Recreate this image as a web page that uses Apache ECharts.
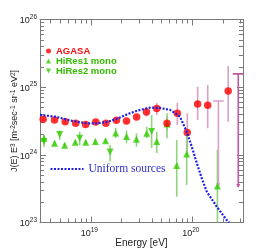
<!DOCTYPE html>
<html><head><meta charset="utf-8">
<script src="https://cdn.jsdelivr.net/npm/echarts@6/dist/echarts.min.js"></script>
<style>html,body{margin:0;padding:0;background:#fff}#c{width:262px;height:252px}</style>
</head><body><div id="c"></div>
<script>
// ---- data ----
const agasaE  = [3.4e18, 4.4e18, 5.6e18, 7.1e18, 8.9e18, 1.12e19, 1.41e19, 1.79e19, 2.25e19, 2.83e19, 3.54e19, 4.47e19, 5.64e19, 7.13e19, 8.93e19, 1.13e20, 1.42e20, 2.26e20];
const agasaJ  = [3.36e24, 3.28e24, 3.08e24, 2.94e24, 2.80e24, 3.06e24, 2.93e24, 3.24e24, 3.15e24, 3.63e24, 4.30e24, 4.83e24, 2.93e24, 4.11e24, 2.13e24, 5.65e24, 5.42e24, 8.79e24];
const agasaHi = [3.60e24, 3.51e24, 3.30e24, 3.15e24, 3.00e24, 3.27e24, 3.14e24, 3.47e24, 3.37e24, 3.88e24, 5.15e24, 5.84e24, 3.76e24, 5.90e24, 4.12e24, 1.01e25, 1.08e25, 2.06e25];
const agasaLo = [3.14e24, 3.07e24, 2.88e24, 2.75e24, 2.62e24, 2.86e24, 2.74e24, 3.03e24, 2.94e24, 3.39e24, 3.67e24, 3.88e24, 2.25e24, 2.77e24, 9.97e23, 3.28e24, 2.47e24, 3.09e24];
const agasaLimE   = [1.81e20, 2.84e20];
const agasaLimTop = [6.25e24, 1.57e25];
const agasaLimBot = [3.47e23, 3.36e23];

const hires1E  = [3.46e18, 4.40e18, 5.53e18, 7.04e18, 8.92e18, 1.11e19, 1.40e19, 1.76e19, 2.25e19, 2.82e19, 3.56e19, 4.47e19, 5.64e19, 7.03e19, 8.81e19, 1.77e20];
const hires1J  = [1.76e24, 1.48e24, 1.39e24, 1.54e24, 1.54e24, 1.57e24, 1.62e24, 2.11e24, 1.86e24, 1.70e24, 2.08e24, 1.57e24, 2.86e24, 6.93e23, 1.03e24, 3.47e23];
const hires1Hi = [1.92e24, 1.60e24, 1.50e24, 1.66e24, 1.66e24, 1.70e24, 1.75e24, 2.50e24, 2.28e24, 2.08e24, 2.61e24, 2.20e24, 4.12e24, 1.66e24, 1.97e24, 1.18e24];
const hires1Lo = [1.62e24, 1.37e24, 1.29e24, 1.43e24, 1.43e24, 1.45e24, 1.50e24, 1.78e24, 1.48e24, 1.32e24, 1.76e24, 1.06e24, 1.76e24, 2.41e23, 3.59e23, 1.0e23];

const hires2E  = [3.46e18, 4.94e18, 7.78e18, 1.55e19, 3.98e19];
const hires2J  = [1.58e24, 2.00e24, 1.76e24, 1.10e24, 2.22e24];
const hires2Hi = [1.97e24, 2.28e24, 2.20e24, 1.40e24, 3.88e24];
const hires2Lo = [1.31e24, 1.66e24, 1.38e24, 7.99e23, 1.26e24];

const uniformE = [3.16e18, 4.45e18, 6.38e18, 8.97e18, 1.15e19, 1.48e19, 1.85e19, 2.33e19, 2.92e19, 3.84e19, 4.81e19, 6.04e19, 6.46e19, 7.57e19, 8.81e19, 9.89e19, 1.11e20, 1.24e20, 1.39e20, 1.74e20, 2.18e20, 2.30e20];
const uniformJ = [3.88e24, 3.67e24, 3.20e24, 2.93e24, 2.91e24, 3.09e24, 3.45e24, 4.02e24, 4.53e24, 4.98e24, 4.93e24, 4.61e24, 4.34e24, 3.67e24, 2.20e24, 1.32e24, 7.51e23, 4.51e23, 2.86e23, 1.72e23, 1.09e23, 1.0e23];

const xTickValues  = [1e19, 1e20];
const xMinorValues = [4e18, 5e18, 6e18, 7e18, 8e18, 9e18, 2e19, 3e19, 4e19, 5e19, 6e19, 7e19, 8e19, 9e19, 2e20, 3e20];
const yTickValues  = [1e23, 1e24, 1e25, 1e26];
const yMinorValues = [2e23,3e23,4e23,5e23,6e23,7e23,8e23,9e23,2e24,3e24,4e24,5e24,6e24,7e24,8e24,9e24,2e25,3e25,4e25,5e25,6e25,7e25,8e25,9e25];
const xMin = Math.pow(10, 18.5), xMax = Math.pow(10, 20.5);
const yMin = 1e23, yMax = 1.00001e26;

// ---- chart ----
const AX = '#7a7a7a';
const FONT = 'Liberation Sans';
const labelRich = {
  b: {fontSize: 9, color: '#222', fontFamily: FONT, lineHeight: 12, verticalAlign: 'bottom'},
  s: {fontSize: 6.5, color: '#222', fontFamily: FONT, lineHeight: 8, verticalAlign: 'top'}
};
const supFmt = v => '{b|10}{s|' + Math.round(Math.log10(v)) + '}';

function axis(kind, pos, ticks, len, line, label, extra) {
  const o = {
    type: 'log', logBase: 10, position: pos,
    min: kind === 'x' ? xMin : yMin, max: kind === 'x' ? xMax : yMax,
    axisLine: {show: line, lineStyle: {color: AX, width: 1}},
    axisTick: {show: true, inside: true, length: len, customValues: ticks, lineStyle: {color: AX, width: 1}},
    axisLabel: label ? {show: true, customValues: ticks, formatter: supFmt, rich: labelRich,
      margin: kind === 'x' ? 4 : 3, padding: kind === 'x' ? [0, 3, 0, 0] : 0, hideOverlap: false,
      showMinLabel: true, showMaxLabel: true} : {show: false},
    splitLine: {show: false}, minorTick: {show: false}
  };
  return Object.assign(o, extra || {});
}

const errColAG = '#d8a2c8', errColHR = '#8fd47c';
function errRender(color) {
  return function (params, api) {
    const x = api.value(0), lo = api.value(1), hi = api.value(2);
    const p1 = api.coord([x, hi]), p2 = api.coord([x, lo]);
    return {type: 'line', shape: {x1: p1[0], y1: p1[1], x2: p2[0], y2: p2[1]}, style: {stroke: color, lineWidth: 1.6}};
  };
}

const option = {
  animation: false,
  grid: {left: 40, right: 19, top: 19.5, bottom: 29.5, containLabel: false, outerBoundsMode: 'none'},
  xAxis: [
    axis('x', 'bottom', xTickValues, 6, true, true, {name: 'Energy [eV]', nameLocation: 'middle', nameGap: 16,
      nameMoveOverlap: false,
      nameTextStyle: {fontSize: 10, color: '#222', fontFamily: FONT}}),
    axis('x', 'bottom', xMinorValues, 4, false, false),
    axis('x', 'top', xTickValues, 6, true, false),
    axis('x', 'top', xMinorValues, 4, false, false)
  ],
  yAxis: [
    axis('y', 'left', yTickValues, 6, true, true, {
      name: 'J(E) E{s|3} [m{s|-2}sec{s|-1} sr{s|-1} eV{s|2}]', nameLocation: 'middle', nameGap: 21,
      nameMoveOverlap: false,
      nameTextStyle: {fontSize: 9, color: '#222', fontFamily: FONT,
        rich: {s: {fontSize: 6.5, color: '#222', fontFamily: FONT, verticalAlign: 'top', lineHeight: 8}}}}),
    axis('y', 'left', yMinorValues, 4, false, false),
    axis('y', 'right', yTickValues, 6, true, false),
    axis('y', 'right', yMinorValues, 4, false, false)
  ],
  legend: [
    {left: 46, top: 46, orient: 'vertical', padding: 0, itemGap: 0, itemWidth: 5, itemHeight: 5, selectedMode: false,
      textStyle: {fontSize: 9.5, fontWeight: 'bold', fontFamily: FONT, lineHeight: 10},
      data: [
        {name: 'AGASA', icon: 'circle', textStyle: {color: '#ee1111'}},
        {name: 'HiRes1 mono', icon: 'triangle', textStyle: {color: '#33bb00'}},
        {name: 'HiRes2 mono', icon: 'path://M0,0L10,0L5,10Z', textStyle: {color: '#33bb00'}}
      ]},
    {left: 49.5, top: 163, padding: 0, itemWidth: 33, itemHeight: 6, selectedMode: false,
      itemStyle: {opacity: 0},
      lineStyle: {type: [2, 1.5], width: 2},
      textStyle: {fontFamily: 'Liberation Serif', fontSize: 11.5, color: '#3030c8'},
      data: ['Uniform sources']}
  ],
  series: [
    {type: 'custom', name: 'agasaErr', clip: true, z: 2, renderItem: errRender(errColAG), encode: {x: 0, y: [1, 2]},
      data: agasaE.map((e, i) => [e, agasaLo[i], agasaHi[i]])},
    {type: 'custom', name: 'hires1Err', clip: true, z: 2, renderItem: errRender(errColHR), encode: {x: 0, y: [1, 2]},
      data: hires1E.map((e, i) => [e, hires1Lo[i], hires1Hi[i]])},
    {type: 'custom', name: 'hires2Err', clip: true, z: 2, renderItem: errRender(errColHR), encode: {x: 0, y: [1, 2]},
      data: hires2E.map((e, i) => [e, hires2Lo[i], hires2Hi[i]])},
    {type: 'custom', name: 'agasaLimits', clip: true, z: 2, encode: {x: 0, y: [1, 2]},
      data: agasaLimE.map((e, i) => [e, agasaLimTop[i], agasaLimBot[i]]),
      renderItem: function (params, api) {
        const x = api.value(0), top = api.value(1), bot = api.value(2);
        const p1 = api.coord([x, top]), p2 = api.coord([x, bot]);
        const col = params.dataIndex === 1 ? '#c0589e' : errColAG;
        return {type: 'group', children: [
          {type: 'line', shape: {x1: p1[0] - 5.5, y1: p1[1], x2: p1[0] + 5.5, y2: p1[1]}, style: {stroke: col, lineWidth: 1.6}},
          {type: 'line', shape: {x1: p1[0], y1: p1[1], x2: p2[0], y2: p2[1]}, style: {stroke: col, lineWidth: 1.6}},
          {type: 'polygon', shape: {points: [[p2[0] - 2, p2[1] - 3], [p2[0] + 2, p2[1] - 3], [p2[0], p2[1] + 1]]}, style: {fill: col}}
        ]};
      }},
    {type: 'scatter', name: 'HiRes1 mono', symbol: 'triangle', symbolSize: 7, z: 3, itemStyle: {color: '#33cc00'},
      data: hires1E.map((e, i) => [e, hires1J[i]])},
    {type: 'scatter', name: 'HiRes2 mono', symbol: 'triangle', symbolRotate: 180, symbolSize: 7, z: 3, itemStyle: {color: '#33cc00'},
      data: hires2E.map((e, i) => [e, hires2J[i]])},
    {type: 'scatter', name: 'AGASA', symbol: 'circle', symbolSize: 7.5, z: 4, itemStyle: {color: '#ff0000'},
      data: agasaE.map((e, i) => [e, agasaJ[i]])},
    {type: 'line', name: 'Uniform sources', symbol: 'none', z: 5, smooth: false, clip: true,
      lineStyle: {color: '#1e1ee6', width: 2.2, type: [2, 1.5]}, itemStyle: {color: '#1e1ee6'},
      data: uniformE.map((e, i) => [e, uniformJ[i]])}
  ]
};
const chart = echarts.init(document.getElementById('c'), null, {renderer: 'canvas'});
chart.setOption(option);
</script>
</body></html>
